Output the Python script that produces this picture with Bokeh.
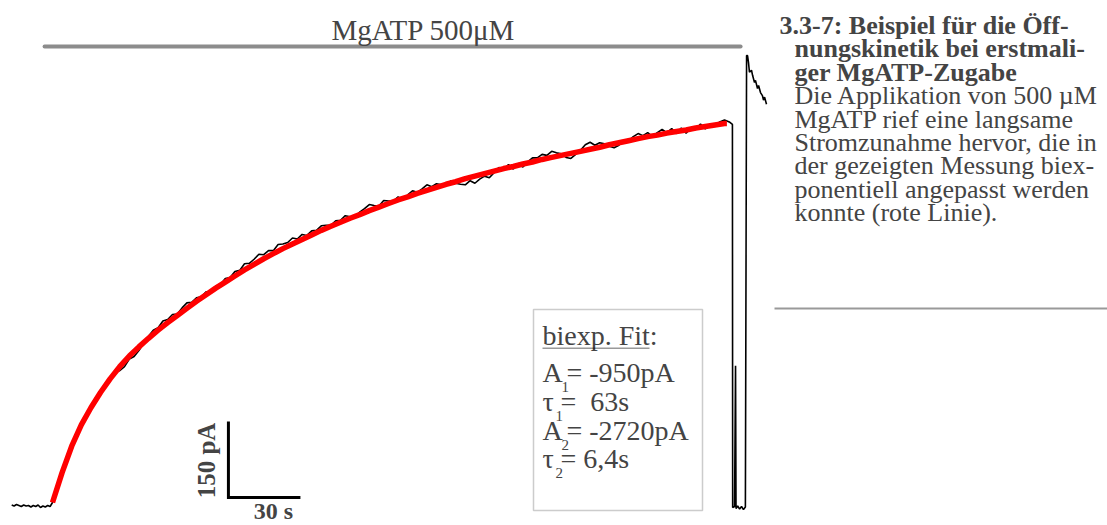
import numpy as np
from bokeh.plotting import figure
from bokeh.models import Range1d, Label, BoxAnnotation
from bokeh.embed import file_html
from bokeh.resources import INLINE

# ---------------- data (time in s, current in pA, inward current plotted upward) -------------
baseline_t = [-17, -16, -15, -14, -13, -12, -11, -10, -9, -8, -7, -6, -5, -4, -3, -2, -1]
baseline_pA = [-1, -3, 0, -2, -4, -1, -3, -2, -5, -2, -4, -1, -6, -3, -5, -2, -4]

# measured current during MgATP application, sampled every 2 s from t = 0 s
trace_pA = [
    4, 37, 61, 93, 112, 138, 153, 177, 189, 211, 218, 239, 243, 262, 264, 272, 287, 292, 304, 318,
    332, 344, 349, 362, 365, 375, 376, 388, 398, 399, 408, 410, 420, 418, 431, 434, 446, 448, 460, 462,
    475, 476, 484, 494, 493, 501, 501, 513, 514, 517, 526, 524, 533, 531, 540, 541, 550, 551, 551, 560,
    561, 570, 568, 567, 577, 584, 592, 590, 589, 600, 599, 599, 607, 601, 611, 619, 616, 623, 631, 627,
    633, 631, 630, 639, 634, 632, 631, 639, 634, 642, 648, 645, 655, 665, 661, 671, 662, 673, 666, 676,
    684, 684, 691, 689, 697, 694, 692, 685, 683, 691, 699, 710, 715, 709, 714, 712, 707, 704, 709, 718,
    717, 726, 732, 728, 734, 726, 734, 740, 734, 742, 732, 743, 733, 743, 740, 751, 741, 751, 747, 755,
    759, 755,
]
trace_t = list(np.arange(0, 2 * len(trace_pA), 2))

# wash-out / switching artefacts after the application
tail_t = [283.3, 283.4, 284.2, 284.6, 284.8, 285.5, 286.3, 287.1, 287.9, 288.7, 289.2, 289.6, 290.0,
          290.4, 291.25, 291.7, 292.5, 292.9, 293.75, 294.2, 295.0, 295.8, 296.25, 296.7, 297.5]
tail_pA = [750, -6, -4, 274, -8, -3, -9, -4, -10, -5, 886, 886, 872,
           853, 857, 847, 833, 837, 821, 827, 813, 807, 798, 804, 790]

# biexponential fit (red line), every 4 s
fit_pA = [
    4, 63, 115, 157, 191, 221, 248, 272, 293, 311, 328, 344, 359, 373, 387, 401, 414, 427, 439, 451,
    463, 474, 485, 495, 505, 514, 523, 532, 541, 549, 557, 565, 572, 580, 587, 594, 601, 607, 614, 620,
    626, 632, 637, 643, 648, 653, 658, 663, 667, 672, 676, 681, 685, 689, 693, 697, 701, 705, 710, 714,
    718, 722, 726, 729, 733, 736, 739, 743, 746, 749, 752, 752,
]
fit_t = list(np.arange(0, 4 * (len(fit_pA) - 1), 4)) + [281]

# application bar (MgATP 500 µM)
app_start, app_end, app_level = -3.3, 286.7, 904
# scale bar
sb_t, sb_pA, sb_dt, sb_dI = 73.3, 14, 30, 150

fit_text = [("A", "1", "= -950pA"), ("\u03c4", "1", "=\u00a0 63s"),
            ("A", "2", "= -2720pA"), ("\u03c4", "2", "= 6,4s")]

caption_bold = ["3.3-7: Beispiel für die Öff-", "nungskinetik bei erstmali-", "ger MgATP-Zugabe"]
caption_text = ["Die Applikation von 500 µM", "MgATP rief eine langsame",
                "Stromzunahme hervor, die in", "der gezeigten Messung biex-",
                "ponentiell angepasst werden", "konnte (rote Linie)."]

# ---------------- figure ----------------
W, H = 1107, 525
PX_S, PX_PA = 2.4, 0.5067
X0, Y0 = 52, 504          # picture pixel of t = 0, I = 0
p = figure(width=W, height=H,
           x_range=Range1d(-X0 / PX_S, (W - X0) / PX_S),
           y_range=Range1d((Y0 - H) / PX_PA, Y0 / PX_PA),
           output_backend="svg", toolbar_location=None, min_border=0,
           x_axis_location=None, y_axis_location=None, outline_line_color=None)
p.grid.grid_line_color = None
p.background_fill_color = "white"

FONT = "Liberation Serif"


def sy(y):
    return H - y


def label(x, y, text, size, style="normal", align="left", angle=0.0):
    p.add_layout(Label(x=x, y=sy(y), x_units="screen", y_units="screen", text=text, angle=angle,
                       text_font=FONT, text_font_size=f"{size}px", text_font_style=style,
                       text_align=align, text_baseline="middle"))


def sbox(left, right, top, bottom, **kw):
    p.add_layout(BoxAnnotation(left=left, right=right, top=sy(top), bottom=sy(bottom),
                               left_units="screen", right_units="screen",
                               top_units="screen", bottom_units="screen", **kw))


all_t = baseline_t + trace_t + tail_t
all_pA = baseline_pA + trace_pA + tail_pA
p.line(all_t, all_pA, line_color="black", line_width=1.6)
p.line(fit_t, fit_pA, line_color="#ff0000", line_width=5.5)

p.line([app_start, app_end], [app_level, app_level], line_color="#8c8c8c", line_width=4, line_cap="round")
label(423, 29, "MgATP 500\u03bcM", 29, align="center")

# scale bar
p.line([sb_t, sb_t, sb_t + sb_dt], [sb_pA + sb_dI, sb_pA, sb_pA], line_color="black", line_width=3,
       line_join="miter")
label(206, 460, "150 pA", 25, style="bold", align="center", angle=np.pi / 2)
label(273, 510, "30 s", 24, style="bold", align="center")

# fit parameter box
sbox(533, 702, 309, 510, fill_color=None, line_color="#555555", line_width=1.5)
label(542, 335, "biexp. Fit:", 28)
sbox(542, 649, 347, 348.5, fill_color="black", line_color=None)
row_y = [372, 401, 430, 458]
for (sym, sub, rest), yc in zip(fit_text, row_y):
    is_a = sym == "A"
    label(542, yc, sym, 28)
    label(561 if is_a else 555, yc + 14, sub, 15)
    label(566 if is_a else 560, yc, rest, 28)

# caption
cap_y = [25, 48, 72, 95, 119, 142, 165, 189, 212]
for i, line in enumerate(caption_bold + caption_text):
    label(779 if i == 0 else 794, cap_y[i], line, 26, style="bold" if i < 3 else "normal")
sbox(774, W, 307, 309, fill_color="black", line_color=None)

open("out.html", "w").write(file_html(p, INLINE))
